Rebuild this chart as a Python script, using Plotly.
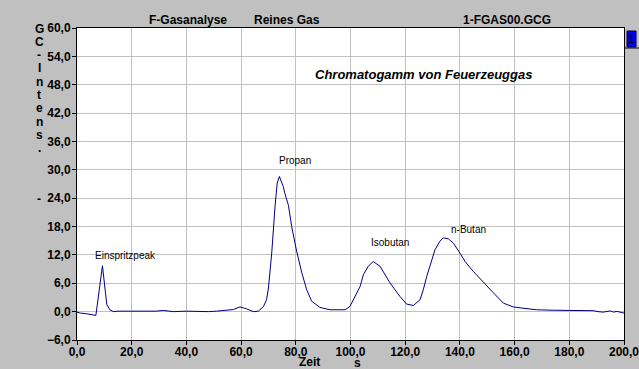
import plotly.graph_objects as go

# ---- data ----
zeit_s = [0, 1.2, 3.5, 4.75, 6.9, 9.3, 10.0, 10.9, 12.0, 13.3, 15.0, 18.0, 20.6, 23.0, 26.7, 29.0,
          31.6, 33.5, 35.2, 40.0, 45.0, 48.0, 51.0, 54.7, 57.2, 59.6, 62.0, 64.5, 66.3, 68.1,
          69.3, 70.0, 71.2, 72.4, 73.2, 74.0, 75.4, 76.0, 77.3, 78.5, 80.3, 82.2, 84.0, 85.8,
          88.8, 92.5, 96.2, 98.0, 99.8, 101.6, 103.5, 104.7, 106.5, 108.3, 110.8, 114.4, 118.1,
          120.5, 123.0, 125.4, 126.6, 127.9, 129.1, 130.9, 132.7, 133.9, 135.8, 137.6, 140.0,
          141.9, 144.9, 148.6, 152.2, 155.9, 159.5, 162.0, 168.0, 174.0, 180.3, 186.4, 188.8,
          190.5, 192.4, 195.0, 196.2, 197.4, 200.0]
intensitaet = [-0.1, -0.3, -0.45, -0.56, -0.8, 9.7, 6.1, 1.5, 0.4, 0.0, 0.1, 0.1, 0.1, 0.05, 0.0, 0.1,
               0.25, 0.1, 0.0, 0.1, 0.0, 0.0, 0.1, 0.3, 0.45, 1.0, 0.6, 0.0, 0.1, 1.0,
               2.5, 5.0, 12.4, 22.2, 27.2, 28.6, 26.5, 25.0, 22.5, 18.0, 12.8, 8.2, 4.6, 2.2,
               0.9, 0.4, 0.4, 0.4, 1.1, 3.2, 5.3, 7.8, 9.6, 10.6, 9.6, 6.1, 3.2,
               1.6, 1.3, 2.5, 4.6, 7.5, 9.6, 13.1, 14.9, 15.6, 15.4, 14.5, 12.4,
               10.6, 8.5, 6.1, 4.0, 1.8, 1.0, 0.8, 0.4, 0.3, 0.2, 0.1, 0.2,
               0.0, -0.1, 0.15, -0.1, 0.05, -0.3]

peak_names = ["Einspritzpeak", "Propan", "Isobutan", "n-Butan"]
peak_label_x = [17.7, 79.7, 114.4, 143.1]
peak_label_y = [11.8, 32.0, 14.7, 17.3]

header_texts = ["F-Gasanalyse", "Reines Gas", "1-FGAS00.GCG"]
chart_title = "Chromatogamm von Feuerzeuggas"
y_title_letters = ["G", "C", "-", "I", "n", "t", "e", "n", "s", "."]

# ---- layout geometry (pixels) ----
W, H = 639, 369
L, R, T, B = 77, 624, 28, 340
def px(x):
    return (x - L) / (R - L)
def py(y):
    return (B - y) / (B - T)

FONT = "Liberation Sans, Arial"

fig = go.Figure()
fig.add_trace(go.Scatter(x=zeit_s, y=intensitaet, mode="lines",
                         line=dict(color="#000080", width=1), hoverinfo="skip"))

tickfont = dict(family=FONT, size=12, color="black", weight="bold")
ax_common = dict(showline=True, linecolor="black", linewidth=1, mirror=True,
                 showgrid=True, gridcolor="#c0c0c0", gridwidth=1,
                 ticks="outside", ticklen=4, tickcolor="black", tickwidth=1,
                 tickfont=tickfont, tickformat=".1f", zeroline=False,
                 automargin=False, ticklabeloverflow="allow")

fig.update_layout(
    width=W, height=H,
    margin=dict(l=L, r=W - R, t=T, b=H - B, pad=0),
    paper_bgcolor="#c0c0c0", plot_bgcolor="white",
    separators=",.",
    showlegend=False,
    xaxis=dict(range=[0, 200], dtick=20, tick0=0, ticklabelstandoff=-3, **ax_common),
    yaxis=dict(range=[-6, 60], dtick=6, tick0=0, ticklabelstandoff=-1, **ax_common),
)

ann = []
for name, x, y in zip(peak_names, peak_label_x, peak_label_y):
    ann.append(dict(x=x, y=y, xref="x", yref="y", text=name, showarrow=False,
                    font=dict(family=FONT, size=10, color="black"),
                    xanchor="center", yanchor="middle"))

for txt, xc in zip(header_texts, [188, 287, 506.7]):
    ann.append(dict(x=px(xc), y=py(20), xref="paper", yref="paper", text=txt, showarrow=False,
                    font=dict(family=FONT, size=12, color="black", weight="bold"),
                    xanchor="center", yanchor="middle"))

ann.append(dict(x=px(423), y=py(74), xref="paper", yref="paper", text="<i>" + chart_title + "</i>",
                showarrow=False,
                font=dict(family=FONT, size=13, color="black", weight="bold"),
                xanchor="center", yanchor="middle"))

for i, ch in enumerate(y_title_letters):
    ann.append(dict(x=px(39), y=py(28.5 + 13.3 * i), xref="paper", yref="paper", text=ch,
                    showarrow=False,
                    font=dict(family=FONT, size=12, color="black", weight="bold"),
                    xanchor="center", yanchor="middle"))
ann.append(dict(x=px(39), y=py(199), xref="paper", yref="paper", text="-", showarrow=False,
                font=dict(family=FONT, size=12, color="black", weight="bold"),
                xanchor="center", yanchor="middle"))

ann.append(dict(x=px(309), y=py(362), xref="paper", yref="paper", text="Zeit", showarrow=False,
                font=dict(family=FONT, size=12, color="black", weight="bold"),
                xanchor="center", yanchor="middle"))
ann.append(dict(x=px(357), y=py(363), xref="paper", yref="paper", text="s", showarrow=False,
                font=dict(family=FONT, size=12, color="black", weight="bold"),
                xanchor="center", yanchor="middle"))

# small blue marker box at top right
ann.append(dict(x=px(631.5), y=py(39), xref="paper", yref="paper", text="1", showarrow=False,
                font=dict(family=FONT, size=12, color="#000030", weight="bold"),
                xanchor="center", yanchor="middle"))

fig.update_layout(annotations=ann)
fig.update_layout(shapes=[
    dict(type="rect", xref="paper", yref="paper", x0=px(627), x1=px(636), y0=py(47), y1=py(31),
         fillcolor="#0000ff", line=dict(color="#000040", width=1), layer="below"),
    dict(type="line", xref="paper", yref="paper", x0=px(624), x1=px(639), y0=py(48), y1=py(48),
         line=dict(color="black", width=1)),
])

fig.write_html("out.html", config={"displayModeBar": False},
               post_script="document.body.style.margin='0';document.body.style.padding='0';document.body.style.overflow='hidden';")
